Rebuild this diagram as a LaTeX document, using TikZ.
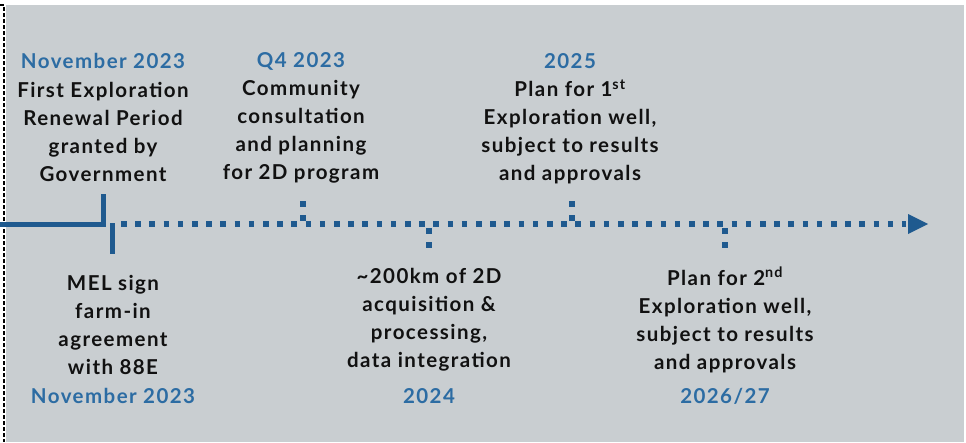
\documentclass[tikz,border=0pt]{standalone}
\usepackage{fontspec}
\setmainfont{Lato}[LetterSpace=7]
\definecolor{bggray}{RGB}{201,206,209}
\definecolor{lineblue}{RGB}{31,90,143}
\definecolor{dateblue}{RGB}{44,108,163}
\definecolor{txtblack}{RGB}{17,17,17}
\tikzset{
  datelbl/.style={font=\fontsize{20.5}{28}\selectfont\bfseries, text=dateblue, inner sep=0pt},
  desclbl/.style={font=\fontsize{20.5}{28}\selectfont\bfseries, text=txtblack, align=center, inner sep=0pt},
  dotsq/.style={fill=lineblue},
}
\begin{document}
\begin{tikzpicture}[x=1pt,y=-1pt]
\useasboundingbox (0,0) rectangle (966,442);
% dashed border
\draw[black, line width=1.8pt, dash pattern=on 4pt off 2pt] (0,5) -- (4,5) -- (4,442);
% background
\fill[bggray] (6,5) rectangle (964,442);
% timeline solid part
\coordinate (start) at (0,224);
\coordinate (tk1) at (103,224);
\coordinate (tk1top) at (103,194);
\coordinate (tk2top) at (112,223);
\coordinate (tk2bot) at (112,254);
\coordinate (dotstart) at (121,224);
\coordinate (dotend) at (906,224);
\draw[lineblue, line width=5pt] (start) -- (tk1) -- (tk1top);
\draw[lineblue, line width=5pt] (tk2top) -- (tk2bot);
\draw[lineblue, line width=5.5pt, dash pattern=on 5.5pt off 8.7pt] (dotstart) -- (dotend);
\fill[lineblue] (908,214) -- (928,224) -- (908,234) -- cycle;
% tick dots
\foreach \x/\a/\b in {303/204/218, 572/204/218, 429/231/245, 725/231/245}{
  \fill[dotsq] (\x-2.75,\a-2.75) rectangle (\x+2.75,\a+2.75);
  \fill[dotsq] (\x-2.75,\b-2.75) rectangle (\x+2.75,\b+2.75);
}
% top labels
\node[datelbl] (d1) at (103,61) {November 2023};
\node[desclbl] (t1) at (103,132) {First Exploration\\Renewal Period\\granted by\\Government};
\node[datelbl] (d2) at (301,61) {Q4 2023};
\node[desclbl] (t2) at (301,132) {Community\\consultation\\and planning\\for 2D program};
\node[datelbl] (d3) at (570,61) {2025};
\node[desclbl] (t3) at (570,132) {Plan for 1\textsuperscript{st}\\Exploration well,\\subject to results\\and approvals};
% bottom labels
\node[desclbl] (b1) at (113,325) {MEL sign\\farm-in\\agreement\\with 88E};
\node[datelbl] (e1) at (113,396) {November 2023};
\node[desclbl] (b2) at (429,320) {\textasciitilde200km of 2D\\acquisition \&\\processing,\\data integration};
\node[datelbl] (e2) at (429,396) {2024};
\node[desclbl] (b3) at (725,320) {Plan for 2\textsuperscript{nd}\\Exploration well,\\subject to results\\and approvals};
\node[datelbl] (e3) at (725,396) {2026/27};
\end{tikzpicture}
\end{document}
